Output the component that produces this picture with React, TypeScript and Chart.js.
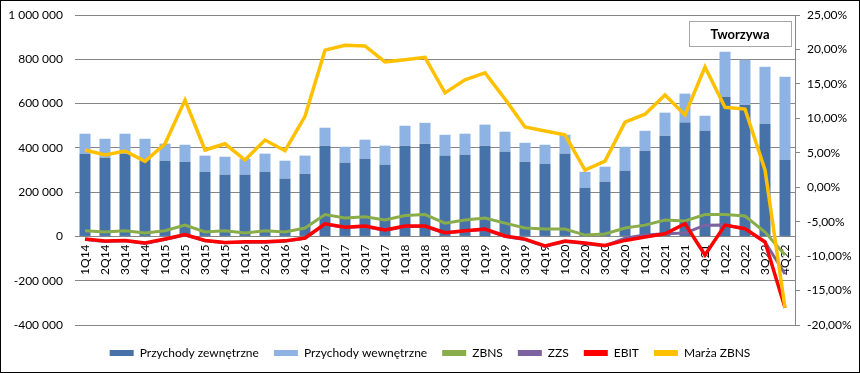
import React, { useEffect, useRef } from 'react';
import { Chart, registerables } from 'chart.js';

Chart.register(...registerables);

const categories = [
  '1Q14', '2Q14', '3Q14', '4Q14', '1Q15', '2Q15', '3Q15', '4Q15', '1Q16', '2Q16', '3Q16', '4Q16',
  '1Q17', '2Q17', '3Q17', '4Q17', '1Q18', '2Q18', '3Q18', '4Q18', '1Q19', '2Q19', '3Q19', '4Q19',
  '1Q20', '2Q20', '3Q20', '4Q20', '1Q21', '2Q21', '3Q21', '4Q21', '1Q22', '2Q22', '3Q22', '4Q22',
];

const przychodyZewnetrzne = [
  373000, 355000, 373000, 350000, 342000, 337000, 292000, 279000, 279000, 292000, 261000, 283000,
  410000, 333000, 351000, 324000, 410000, 419000, 365000, 369000, 410000, 383000, 337000, 328000,
  374000, 220000, 247000, 297000, 387000, 455000, 514000, 477000, 631000, 595000, 509000, 346000,
];

const przychodyWewnetrzne = [
  91000, 86000, 91000, 91000, 77000, 77000, 73000, 81000, 72000, 82000, 81000, 82000,
  81000, 72000, 86000, 86000, 90000, 94000, 94000, 95000, 95000, 90000, 86000, 86000,
  85000, 72000, 68000, 108000, 90000, 104000, 131000, 68000, 203000, 203000, 257000, 375000,
];

const zbns = [
  26000, 20000, 26000, 15000, 26000, 51000, 20000, 26000, 15000, 26000, 20000, 38000,
  99000, 83000, 89000, 74000, 94000, 99000, 60000, 74000, 83000, 60000, 38000, 33000,
  33000, 6000, 11000, 38000, 51000, 74000, 70000, 99000, 99000, 92000, 20000, -84000,
];

const zzs = [
  -14000, -23000, -20000, -32000, -14000, 6000, -20000, -29000, -26000, -26000, -22000, -9000,
  55000, 40000, 45000, 27000, 45000, 45000, 15000, 24000, 31000, 0, -14000, -45000,
  -23000, -32000, -43000, -8000, 6000, 12000, 15000, 51000, 52000, 35000, -25000, -170000,
];

const ebit = [
  -12000, -21000, -18000, -30000, -12000, 8000, -18000, -27000, -24000, -24000, -20000, -7000,
  57000, 42000, 47000, 29000, 47000, 47000, 17000, 26000, 33000, 2000, -12000, -43000,
  -21000, -30000, -41000, -18000, -3000, 12000, 57000, -84000, 51000, 35000, -25000, -322000,
];

const marzaZbns = [
  5.4, 4.7, 5.25, 3.75, 6.3, 12.65, 5.4, 6.3, 3.95, 6.85, 5.3, 10.3,
  19.9, 20.6, 20.5, 18.2, 18.5, 18.85, 13.7, 15.6, 16.6, 12.8, 8.75, 8.15,
  7.6, 2.5, 3.8, 9.45, 10.6, 13.4, 10.5, 17.45, 11.6, 11.35, 2.5, -17.5,
];

const leftAxis = { min: -400000, max: 1000000, step: 200000 };
const rightAxis = { min: -20, max: 25, step: 5 };
const chartTitle = 'Tworzywa';

const seriesNames = ['Przychody zewnętrzne', 'Przychody wewnętrzne', 'ZBNS', 'ZZS', 'EBIT', 'Marża ZBNS'];

const fmtLeft = (v: number) => String(Math.round(v)).replace(/\B(?=(\d{3})+(?!\d))/g, ' ');
const fmtRight = (v: number) => v.toFixed(2).replace('.', ',') + '%';

export default function App() {
  const ref = useRef<HTMLCanvasElement>(null);

  useEffect(() => {
    document.body.style.margin = '0';
    Chart.defaults.font.family = "Lato, 'Liberation Sans', sans-serif";
    Chart.defaults.font.size = 12;
    Chart.defaults.color = '#000';

    const titleBox = {
      id: 'titleBox',
      afterDraw(chart: any) {
        const { ctx, chartArea } = chart;
        const w = 102;
        const h = 25;
        const x = Math.round(chartArea.right - 4 - w);
        const y = Math.round(chartArea.top + 6);
        ctx.save();
        ctx.fillStyle = '#fff';
        ctx.fillRect(x, y, w, h);
        ctx.strokeStyle = '#a6a6a6';
        ctx.lineWidth = 1;
        ctx.strokeRect(x + 0.5, y + 0.5, w, h);
        ctx.fillStyle = '#000';
        ctx.font = "bold 13px Lato, 'Liberation Sans', sans-serif";
        ctx.textAlign = 'center';
        ctx.textBaseline = 'middle';
        ctx.fillText(chartTitle, x + w / 2, y + h / 2 + 1);
        ctx.restore();
      },
    };

    const legendShift = {
      id: 'legendShift',
      afterLayout(chart: any) {
        const l = chart.legend;
        if (l) {
          l.top += 7;
          l.bottom += 7;
        }
      },
    };

    const lineDs = (label: string, data: number[], color: string, width: number, axis: string, order: number, stack: string) => ({
      type: 'line' as const,
      label,
      data,
      borderColor: color,
      backgroundColor: color,
      borderWidth: width,
      pointRadius: 0,
      pointHoverRadius: 0,
      tension: 0,
      fill: false,
      yAxisID: axis,
      order,
      stack,
    });

    const noPad = (s: any, w: number) => {
      s.width = w;
      s.paddingTop = 0;
      s.paddingBottom = 0;
    };

    const chart = new Chart(ref.current as HTMLCanvasElement, {
      type: 'bar',
      data: {
        labels: categories,
        datasets: [
          {
            type: 'bar',
            label: seriesNames[0],
            data: przychodyZewnetrzne,
            backgroundColor: '#4672a8',
            borderWidth: 0,
            yAxisID: 'y',
            stack: 'rev',
            order: 5,
            barPercentage: 0.55,
            categoryPercentage: 1,
          },
          {
            type: 'bar',
            label: seriesNames[1],
            data: przychodyWewnetrzne,
            backgroundColor: '#8eb3e2',
            borderWidth: 0,
            yAxisID: 'y',
            stack: 'rev',
            order: 6,
            barPercentage: 0.55,
            categoryPercentage: 1,
          },
          lineDs(seriesNames[2], zbns, '#8aad4b', 3, 'y', 4, 's1'),
          lineDs(seriesNames[3], zzs, '#7c62a0', 3, 'y', 3, 's2'),
          lineDs(seriesNames[4], ebit, '#ff0000', 3.5, 'y', 2, 's3'),
          lineDs(seriesNames[5], marzaZbns, '#ffc000', 3.5, 'y1', 1, 's4'),
        ] as any,
      },
      options: {
        animation: false,
        responsive: true,
        maintainAspectRatio: false,
        layout: { padding: { top: 14, bottom: 10, left: 0, right: 0 } },
        plugins: {
          tooltip: { enabled: false },
          legend: {
            position: 'bottom',
            labels: {
              boxWidth: 24,
              boxHeight: 6,
              padding: 15,
              color: '#000',
              font: { size: 12 },
              sort: (a: any, b: any) => a.datasetIndex - b.datasetIndex,
              generateLabels: (c: any) => {
                const items = (Chart.defaults.plugins.legend.labels as any).generateLabels(c);
                return items.map((it: any) => ({
                  ...it,
                  lineWidth: 0,
                  fillStyle: c.data.datasets[it.datasetIndex].backgroundColor,
                }));
              },
            },
          },
        },
        scales: {
          x: {
            type: 'category',
            stacked: true,
            position: { y: 0 } as any,
            grid: { display: false, drawTicks: false },
            border: { display: true, color: '#868686', width: 1 },
            ticks: { minRotation: 90, maxRotation: 90, autoSkip: false, padding: 8, color: '#000' },
          },
          y: {
            position: 'left',
            stacked: true,
            min: leftAxis.min,
            max: leftAxis.max,
            ticks: { stepSize: leftAxis.step, padding: 12, color: '#000', callback: (v: any) => fmtLeft(Number(v)) },
            grid: { color: '#868686', drawTicks: false },
            border: { display: false },
            afterFit: (s: any) => noPad(s, 74),
          },
          y1: {
            position: 'right',
            min: rightAxis.min,
            max: rightAxis.max,
            ticks: { stepSize: rightAxis.step, padding: 7, color: '#000', callback: (v: any) => fmtRight(Number(v)) },
            grid: { drawOnChartArea: false, drawTicks: true, tickLength: 5, color: '#868686' },
            border: { display: true, color: '#868686', width: 1 },
            afterFit: (s: any) => noPad(s, 64),
          },
        },
      } as any,
      plugins: [titleBox, legendShift],
    });

    return () => chart.destroy();
  }, []);

  return (
    <div style={{ width: 860, height: 373, border: '1px solid #000', boxSizing: 'border-box', background: '#fff' }}>
      <div style={{ position: 'relative', width: 858, height: 371 }}>
        <canvas ref={ref} />
      </div>
    </div>
  );
}
